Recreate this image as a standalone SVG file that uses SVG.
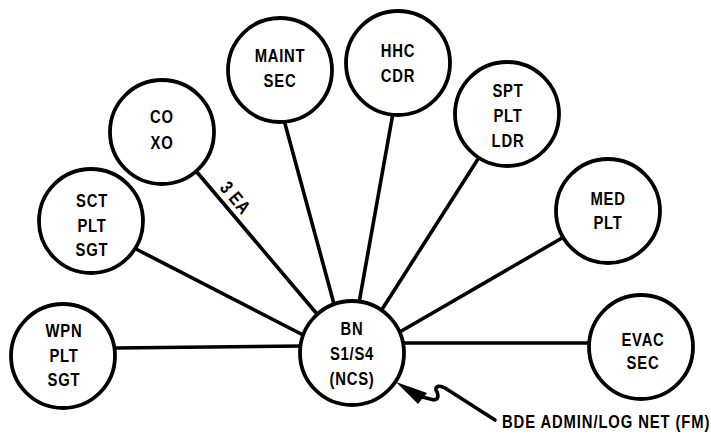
<svg xmlns="http://www.w3.org/2000/svg" width="711" height="435" viewBox="0 0 711 435">
<style>
.bg{fill:#ffffff}
.node circle{fill:#ffffff;stroke:#000000;stroke-width:3.8}
.lbl{font-family:"Liberation Sans",Arial,sans-serif;font-weight:bold;font-size:19px;fill:#000000;text-anchor:middle;letter-spacing:1px}
.edge{stroke:#000000;stroke-width:3.6;fill:none;stroke-linecap:round}
</style>
<rect class="bg" x="0" y="0" width="711" height="435"/>
<g id="connectors">
<line class="edge" x1="116" y1="348" x2="304" y2="346"/>
<line class="edge" x1="136" y1="249" x2="305" y2="336"/>
<line class="edge" x1="196" y1="171" x2="317" y2="314"/>
<line class="edge" x1="284" y1="120" x2="334" y2="304"/>
<line class="edge" x1="393" y1="113" x2="359" y2="303"/>
<line class="edge" x1="478" y1="159" x2="381" y2="311"/>
<line class="edge" x1="562" y1="238" x2="398" y2="333"/>
<line class="edge" x1="400" y1="343" x2="590" y2="343"/>
<g transform="translate(230.5,202) rotate(50) scale(0.78,1)"><text class="lbl" x="0" y="0" font-size="17">3 EA</text></g>
<path class="edge" d="M 418 396 L 434 400 C 440 399 438 393 436 390 C 435 386 440 385 445 388 L 495 420"/>
<polygon points="396,382 427,393 418,404" fill="#000000"/>
<g transform="translate(502,428) scale(0.78,1)"><text class="lbl" x="0" y="0" style="text-anchor:start;letter-spacing:0" textLength="266" lengthAdjust="spacing">BDE ADMIN/LOG NET (FM)</text></g>
</g>
<g id="n_wpn" class="node"><circle cx="63" cy="356" r="52"/>
<g transform="translate(64,0) scale(0.78,1)"><text class="lbl" x="0" y="337">WPN</text><text class="lbl" x="0" y="362">PLT</text><text class="lbl" x="0" y="386">SGT</text></g></g>
<g id="n_sct" class="node"><circle cx="91" cy="221" r="52"/>
<g transform="translate(92,0) scale(0.78,1)"><text class="lbl" x="0" y="207">SCT</text><text class="lbl" x="0" y="232">PLT</text><text class="lbl" x="0" y="256">SGT</text></g></g>
<g id="n_co" class="node"><circle cx="162" cy="132" r="52"/>
<g transform="translate(162,0) scale(0.78,1)"><text class="lbl" x="0" y="123">CO</text><text class="lbl" x="0" y="149">XO</text></g></g>
<g id="n_maint" class="node"><circle cx="280" cy="70" r="52"/>
<g transform="translate(280,0) scale(0.78,1)"><text class="lbl" x="0" y="62">MAINT</text><text class="lbl" x="0" y="87">SEC</text></g></g>
<g id="n_hhc" class="node"><circle cx="398" cy="63" r="52"/>
<g transform="translate(398,0) scale(0.78,1)"><text class="lbl" x="0" y="57">HHC</text><text class="lbl" x="0" y="82">CDR</text></g></g>
<g id="n_spt" class="node"><circle cx="507" cy="114" r="52"/>
<g transform="translate(508,0) scale(0.78,1)"><text class="lbl" x="0" y="97">SPT</text><text class="lbl" x="0" y="122">PLT</text><text class="lbl" x="0" y="147">LDR</text></g></g>
<g id="n_med" class="node"><circle cx="608" cy="211" r="52"/>
<g transform="translate(608,0) scale(0.78,1)"><text class="lbl" x="0" y="205">MED</text><text class="lbl" x="0" y="229">PLT</text></g></g>
<g id="n_evac" class="node"><circle cx="641" cy="347" r="52"/>
<g transform="translate(643,0) scale(0.78,1)"><text class="lbl" x="0" y="346">EVAC</text><text class="lbl" x="0" y="369">SEC</text></g></g>
<g id="n_bn" class="node"><circle cx="352" cy="353" r="52"/>
<g transform="translate(352,0) scale(0.78,1)"><text class="lbl" x="0" y="335">BN</text><text class="lbl" x="0" y="360">S1/S4</text><text class="lbl" x="0" y="385">(NCS)</text></g></g>
</svg>
